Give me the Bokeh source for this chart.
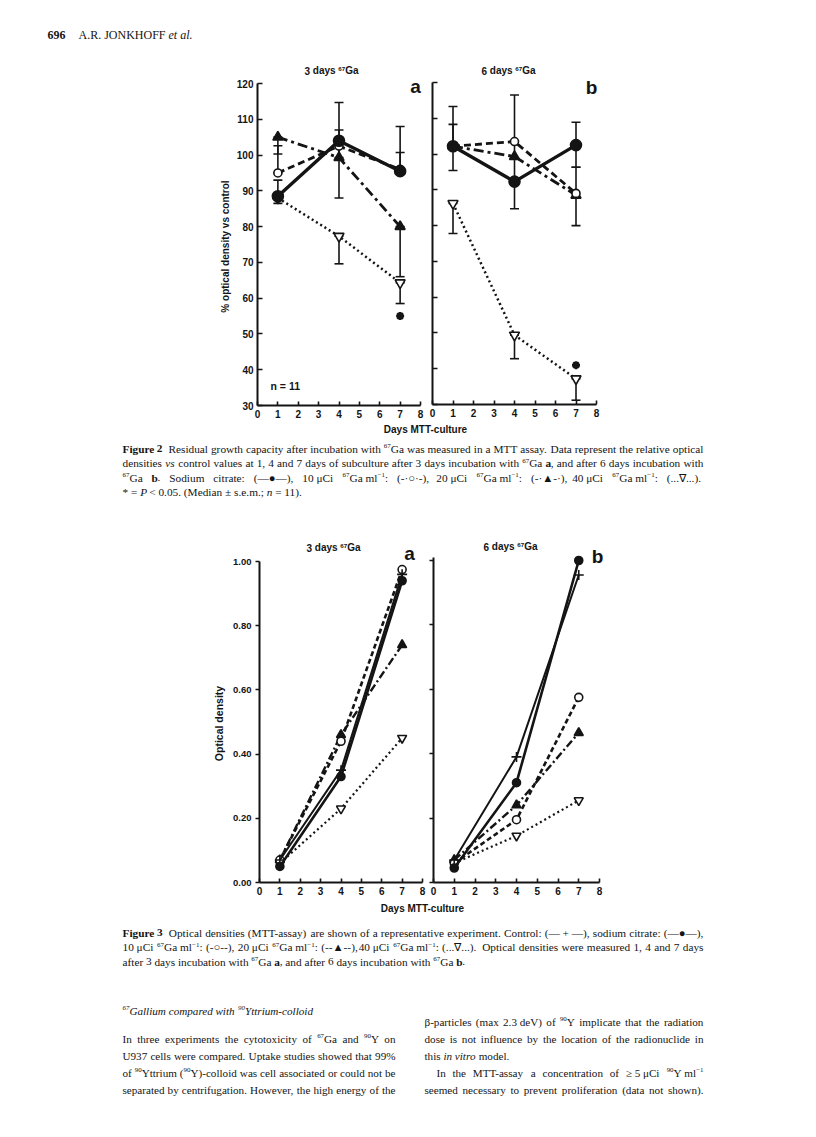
import math
from bokeh.plotting import figure
from bokeh.models import (Range1d, LinearAxis, FixedTicker, Whisker, TeeHead,
                          ColumnDataSource, CustomJSTickFormatter, NumeralTickFormatter)
from bokeh.core.properties import value
from bokeh.embed import file_html
from bokeh.resources import INLINE

# ---------------------------------------------------------------- data
days = [1, 4, 7]

# Figure 2 : % optical density vs control
f2_yticks = [30, 40, 50, 60, 70, 80, 90, 100, 110, 120]
f2_xticks = [0, 1, 2, 3, 4, 5, 6, 7, 8]
# panel a : 3 days 67Ga
f2a_citrate = [88.5, 104.0, 95.5]
f2a_ga10 = [95.0, 102.5, 96.0]
f2a_ga20 = [105.0, 99.3, 80.0]
f2a_ga40 = [88.0, 77.3, 64.3]
f2a_err_day = [1, 1, 1, 4, 4, 4, 7, 7, 7, 7]
f2a_err_low = [86.5, 95.0, 100.3, 88.0, 99.3, 69.6, 95.5, 95.5, 66.0, 58.5]
f2a_err_high = [93.0, 102.6, 105.0, 114.7, 107.0, 77.3, 108.0, 100.7, 80.0, 64.3]
f2a_sig_day = [7]
f2a_sig_val = [55.0]
# panel b : 6 days 67Ga
f2b_citrate = [102.2, 92.3, 102.5]
f2b_ga10 = [102.2, 103.5, 89.0]
f2b_ga20 = [102.2, 99.3, 88.5]
f2b_ga40 = [86.2, 49.4, 37.2]
f2b_err_day = [1, 1, 1, 4, 4, 7, 7, 7]
f2b_err_low = [95.4, 102.2, 77.8, 84.7, 42.8, 96.3, 80.0, 31.2]
f2b_err_high = [108.3, 113.3, 86.2, 116.5, 49.4, 108.9, 96.3, 37.2]
f2b_sig_day = [7]
f2b_sig_val = [41.0]

# Figure 3 : optical density (MTT assay)
f3_yticks = [0.0, 0.2, 0.4, 0.6, 0.8, 1.0]
f3_xticks = [0, 1, 2, 3, 4, 5, 6, 7, 8]
f3a_control = [0.07, 0.35, 0.96]
f3a_citrate = [0.05, 0.33, 0.94]
f3a_ga10 = [0.07, 0.44, 0.975]
f3a_ga20 = [0.07, 0.46, 0.74]
f3a_ga40 = [0.06, 0.23, 0.45]
f3b_control = [0.07, 0.39, 0.955]
f3b_citrate = [0.045, 0.31, 1.00]
f3b_ga10 = [0.06, 0.195, 0.575]
f3b_ga20 = [0.07, 0.24, 0.465]
f3b_ga40 = [0.06, 0.145, 0.255]

# ---------------------------------------------------------------- text
# markup: #bold#  _italic_  ^superscript^
NB = "\u00a0"
GA = "^67^Ga"
YT = "^90^Y"
MLI = "ml^\u22121^"
header_num = "#696#"
header_txt = "A.R. JONKHOFF _et al._"
title_3d = "3 days " + GA
title_6d = "6 days " + GA
f2_ylabel = "% optical density vs control"
f3_ylabel = "Optical density"
xlabel = "Days MTT-culture"
n_label = "n = 11"

cap2 = [
    "#Figure# #2#" + NB + " Residual growth capacity after incubation with " + GA + " was measured in a MTT assay. Data represent the relative optical",
    "densities _vs_ control values at 1, 4 and 7 days of subculture after 3 days incubation with " + GA + " #a#, and after 6 days incubation with",
    GA + " #b#. Sodium citrate: (\u2014\u25cf\u2014), 10" + NB + "\u03bcCi " + GA + NB + MLI + ": (-\u00b7\u25cb\u00b7-), 20" + NB + "\u03bcCi " + GA + NB + MLI + ": (-\u00b7\u25b2-\u00b7), 40" + NB + "\u03bcCi " + GA + NB + MLI + ": (...\u2207...).",
    "* = _P_ < 0.05. (Median \u00b1 s.e.m.; _n_ = 11).",
]
cap3 = [
    "#Figure# #3#" + NB + " Optical densities (MTT-assay) are shown of a representative experiment. Control: (\u2014" + NB + "+" + NB + "\u2014), sodium citrate: (\u2014\u25cf\u2014),",
    "10" + NB + "\u03bcCi " + GA + NB + MLI + ": (-\u25cb--), 20" + NB + "\u03bcCi " + GA + NB + MLI + ": (--\u25b2--), 40" + NB + "\u03bcCi " + GA + NB + MLI + ": (...\u2207...). Optical densities were measured 1, 4 and 7 days",
    "after 3 days incubation with " + GA + " #a#, and after 6 days incubation with " + GA + " #b#.",
]
heading = "_^67^Gallium compared with ^90^Yttrium-colloid_"
col_left = [
    "In three experiments the cytotoxicity of " + GA + " and " + YT + " on",
    "U937 cells were compared. Uptake studies showed that 99%",
    "of ^90^Yttrium (" + YT + ")-colloid was cell associated or could not be",
    "separated by centrifugation. However, the high energy of the",
]
col_right = [
    "\u03b2-particles (max 2.3" + NB + "deV) of " + YT + " implicate that the radiation",
    "dose is not influence by the location of the radionuclide in",
    "this _in vitro_ model.",
    "In the MTT-assay a concentration of \u2265" + NB + "5" + NB + "\u03bcCi " + YT + NB + MLI,
    "seemed necessary to prevent proliferation (data not shown).",
]

# ---------------------------------------------------------------- canvas
W, H = 800, 1121
INK = "#141414"
SANS = "Liberation Sans"
SERIF = "Liberation Serif"

p = figure(width=W, height=H, x_range=Range1d(0, W), y_range=Range1d(0, H),
           output_backend="svg", toolbar_location=None, min_border=0,
           x_axis_type=None, y_axis_type=None, outline_line_color=None,
           background_fill_color="white", border_fill_color="white")


def px(x):
    return x


def py(y):
    return H - y


def add_panel(name, x0, x1, vx0, vx1, y0, y1, vy0, vy1):
    cx0, cx1 = px(x0), px(x1)
    cy0, cy1 = py(y0), py(y1)
    m = (cx1 - cx0) / (vx1 - vx0)
    p.extra_x_ranges[name] = Range1d(vx0 - cx0 / m, vx0 + (W - cx0) / m)
    k = (cy1 - cy0) / (vy1 - vy0)
    p.extra_y_ranges[name] = Range1d(vy0 - cy0 / k, vy0 + (H - cy0) / k)
    return dict(x_range_name=name, y_range_name=name)


def style_axis(ax, tick_in, tick_out, standoff, size):
    ax.axis_line_color = INK
    ax.axis_line_width = 2
    ax.major_tick_line_color = INK
    ax.major_tick_line_width = 1.6
    ax.major_tick_in = tick_in
    ax.major_tick_out = tick_out
    ax.minor_tick_line_color = None
    ax.major_label_text_font = SANS
    ax.major_label_text_font_style = "bold"
    ax.major_label_text_font_size = size
    ax.major_label_text_color = INK
    ax.major_label_standoff = standoff


def add_axes(rn, xticks, yticks, xb, yb, ylabels=True, yfmt=None, ytick_in=5, ytick_out=0,
             ysize="10px"):
    xa = LinearAxis(fixed_location=yb[0], bounds=xb, ticker=FixedTicker(ticks=xticks), **rn)
    style_axis(xa, 4, 0, 4, "10px")
    p.add_layout(xa, "below")
    ya = LinearAxis(fixed_location=xb[0], bounds=yb, ticker=FixedTicker(ticks=yticks), **rn)
    style_axis(ya, ytick_in, ytick_out, 4, ysize)
    if not ylabels:
        ya.formatter = CustomJSTickFormatter(code="return ''")
    elif yfmt is not None:
        ya.formatter = yfmt
    p.add_layout(ya, "left")


def series(rn, ys, lw, dash, marker, msize, fill):
    p.line(days, ys, line_color=INK, line_width=lw, line_dash=dash, **rn)
    p.scatter(days, ys, marker=marker, size=msize, line_color=INK, line_width=1.6,
              fill_color=fill, **rn)


def errbars(rn, xs, lo, hi):
    src = ColumnDataSource(dict(base=xs, lower=lo, upper=hi))
    w = Whisker(source=src, base="base", lower="lower", upper="upper", dimension="height",
                line_color=INK, line_width=1.6, level="underlay",
                upper_head=TeeHead(size=9, line_color=INK, line_width=1.6),
                lower_head=TeeHead(size=9, line_color=INK, line_width=1.6), **rn)
    p.add_layout(w)


# ---------------------------------------------------------------- text engine
TW = {' ': 250, NB: 250, '!': 333, '%': 833, '(': 333, ')': 333, '*': 500, '+': 564,
      ',': 250, '-': 333, '.': 250, '/': 278, ':': 278, ';': 278, '<': 564, '=': 564,
      '>': 564, '?': 444, '\u2014': 1000, '\u25cf': 610, '\u25cb': 610, '\u25b2': 780,
      '\u2207': 840, '\u00b1': 564, '\u2265': 549, '\u03b2': 500, '\u03bc': 576,
      '\u00b7': 250, '\u2212': 564}
for c, w in zip("ABCDEFGHIJKLMNOPQRSTUVWXYZ",
                [722, 667, 667, 722, 611, 556, 722, 722, 333, 389, 722, 611, 889, 722, 722,
                 556, 722, 667, 556, 611, 722, 722, 944, 722, 722, 611]):
    TW[c] = w
for c, w in zip("abcdefghijklmnopqrstuvwxyz",
                [444, 500, 444, 500, 444, 333, 500, 500, 278, 278, 500, 278, 778, 500, 500,
                 500, 500, 333, 389, 278, 500, 500, 722, 500, 500, 444]):
    TW[c] = w
for c in "0123456789":
    TW[c] = 500

TWS = {' ': 278, '%': 889, '-': 333, '=': 584, 'D': 722, 'G': 778, 'M': 833, 'O': 778,
       'T': 611, 'a': 556, 'c': 556, 'd': 611, 'e': 556, 'i': 278, 'l': 278, 'n': 611,
       'o': 611, 'p': 611, 'r': 389, 's': 556, 't': 333, 'u': 611, 'v': 556, 'y': 556}
for c in "0123456789":
    TWS[c] = 556

SUP = 0.62
SUP_RISE = 0.19


def seg_w(t, st, sup, size, table):
    w = sum(table.get(c, 500) for c in t) / 1000.0 * size
    if sup:
        w *= SUP
    if "bold" in st and table is TW:
        w *= 1.06
    return w


def parse(line, base):
    bold = base == "bold"
    ital = base == "italic"
    sup = False
    words = []
    for tok in line.split(" "):
        if not tok:
            continue
        segs, cur = [], ""
        for ch in tok:
            if ch in "#_^":
                if cur:
                    segs.append((cur, bold, ital, sup))
                cur = ""
                if ch == "#":
                    bold = not bold
                elif ch == "_":
                    ital = not ital
                else:
                    sup = not sup
            else:
                cur += ch
        if cur:
            segs.append((cur, bold, ital, sup))
        out = []
        for t, b, i, s in segs:
            st = "bold italic" if (b and i) else "bold" if b else "italic" if i else "normal"
            out.append((t, st, s))
        words.append(out)
    return words


def word_w(w, size, table):
    return sum(seg_w(t, st, s, size, table) for t, st, s in w)


def fit_size(blocks):
    best = 99.0
    for lines, x0, x1, just, indent, base in blocks:
        for i, line in enumerate(lines):
            if not just[i]:
                continue
            words = parse(line, base)
            nat = sum(word_w(w, 1.0, TW) for w in words) + 0.25 * (len(words) - 1)
            best = min(best, (x1 - x0 - indent[i]) / nat)
    return best * 0.995


def text_block(lines, x0, x1, ys, just, size, indent=None, base="normal", font=SERIF,
               table=TW, align="left", angle=0.0):
    indent = indent or [0] * len(lines)
    groups = {}
    for i, line in enumerate(lines):
        words = parse(line, base)
        widths = [word_w(w, size, table) for w in words]
        gap = 0.25 * size if table is TW else 0.278 * size
        total = sum(widths) + gap * (len(words) - 1)
        left = x0 + indent[i]
        if align == "center":
            left = x0 - total / 2.0
        if just[i] and len(words) > 1:
            gap = (x1 - left - sum(widths)) / (len(words) - 1)
        x = left
        for w, wd in zip(words, widths):
            sx = x
            for t, st, s in w:
                g = groups.setdefault((st, s), ([], [], []))
                g[0].append(px(sx))
                g[1].append(py(ys[i]) + (SUP_RISE * size if s else 0.0))
                g[2].append(t)
                sx += seg_w(t, st, s, size, table)
            x += wd + gap
    for (st, s), (xs, yy, tt) in groups.items():
        fs = size * SUP if s else size
        p.text(x=xs, y=yy, text=tt, text_font=value(font),
               text_font_size=value(f"{fs:.2f}px"), text_font_style=st,
               text_align="left", text_baseline="middle", text_color=INK, angle=angle)


def put(x, y, s, size, align="left", angle=0.0):
    p.text(x=[px(x)], y=[py(y)], text=[s], text_font=value(SANS),
           text_font_size=value(f"{size}px"), text_font_style="bold",
           text_align=align, text_baseline="middle", angle=angle, text_color=INK)


def title(x, y, s, size=10):
    text_block([s], x, x, [y], [False], size, base="bold", font=SANS, table=TWS,
               align="center")


# ---------------------------------------------------------------- Figure 2
A2 = add_panel("f2a", 257, 420, 0, 8, 83, 405, 120, 30)
B2 = add_panel("f2b", 432, 596, 0, 8, 82, 404, 120, 30)
add_axes(A2, f2_xticks, f2_yticks, (0, 8), (30, 120))
add_axes(B2, f2_xticks, f2_yticks, (0, 8), (30, 120), ylabels=False)

for rn, cit, g10, g20, g40, ed, el, eh, sd, sv in [
        (A2, f2a_citrate, f2a_ga10, f2a_ga20, f2a_ga40, f2a_err_day, f2a_err_low, f2a_err_high, f2a_sig_day, f2a_sig_val),
        (B2, f2b_citrate, f2b_ga10, f2b_ga20, f2b_ga40, f2b_err_day, f2b_err_low, f2b_err_high, f2b_sig_day, f2b_sig_val)]:
    errbars(rn, ed, el, eh)
    series(rn, g40, 2.5, "2 3", "inverted_triangle", 10, "white")
    series(rn, g20, 2.8, "10 4 3 4", "triangle", 10, INK)
    series(rn, g10, 2.8, "7 4", "circle", 8, "white")
    series(rn, cit, 3.4, "solid", "circle", 11, INK)
    p.scatter(sd, sv, marker="asterisk", size=8, line_color=INK, line_width=2.5, **rn)

title(331, 70, title_3d)
title(508, 70, title_6d)
put(415, 86, "a", 19, align="center")
put(591, 87, "b", 19, align="center")
put(270, 385, n_label, 10.5)
put(225, 246, f2_ylabel, 10, align="center", angle=math.pi / 2)
put(425, 429, xlabel, 10, align="center")

# ---------------------------------------------------------------- Figure 3
A3 = add_panel("f3a", 259, 422, 0, 8, 561, 882, 1.0, 0.0)
B3 = add_panel("f3b", 433, 599, 0, 8, 560, 882, 1.0, 0.0)
add_axes(A3, f3_xticks, f3_yticks, (0, 8), (0.0, 1.0),
         yfmt=NumeralTickFormatter(format="0.00"), ytick_in=0, ytick_out=4, ysize="9.5px")
add_axes(B3, f3_xticks, f3_yticks, (0, 8), (0.0, 1.01), ylabels=False, ytick_in=0,
         ytick_out=4)

for rn, con, cit, g10, g20, g40 in [
        (A3, f3a_control, f3a_citrate, f3a_ga10, f3a_ga20, f3a_ga40),
        (B3, f3b_control, f3b_citrate, f3b_ga10, f3b_ga20, f3b_ga40)]:
    series(rn, g40, 2.2, "2 3", "inverted_triangle", 9, "white")
    series(rn, g20, 2.4, "8 3 2 3", "triangle", 9, INK)
    series(rn, g10, 2.6, "5 3", "circle", 8, "white")
    series(rn, con, 2.0, "solid", "cross", 10, INK)
    series(rn, cit, 2.6, "solid", "circle", 8, INK)

title(333, 547, title_3d)
title(510, 546, title_6d)
put(409, 553, "a", 19, align="center")
put(597, 556, "b", 19, align="center")
put(218, 723, f3_ylabel, 10.5, align="center", angle=math.pi / 2)
put(422, 908, xlabel, 10, align="center")

# ---------------------------------------------------------------- page text
CX0, CX1 = 122, 703
LX0, LX1 = 122, 395
RX0, RX1 = 424, 703

# header
text_block([header_num], 47, 47, [34], [False], 12)
text_block([header_txt], 78, 78, [34], [False], 12)

# captions (shared size)
cap_size = fit_size([(cap2, CX0, CX1, [True, True, True, False], [0] * 4, "normal"),
                     (cap3, CX0, CX1, [True, True, False], [0] * 3, "normal")])
text_block(cap2, CX0, CX1, [448, 462.5, 477, 491.5], [True, True, True, False], cap_size)
text_block(cap3, CX0, CX1, [932, 946.5, 961], [True, True, False], cap_size)

# body
rj = [True, True, False, True, True]
ri = [0, 0, 0, 12, 0]
body_size = fit_size([(col_left, LX0, LX1, [True] * 4, [0] * 4, "normal"),
                      (col_right, RX0, RX1, rj, ri, "normal")])
text_block([heading], LX0, LX1, [1010], [False], body_size)
text_block(col_left, LX0, LX1, [1038, 1055, 1072, 1089], [True] * 4, body_size)
text_block(col_right, RX0, RX1, [1021, 1038, 1055, 1072, 1089], rj, body_size, indent=ri)

open("out.html", "w").write(file_html(p, INLINE))
